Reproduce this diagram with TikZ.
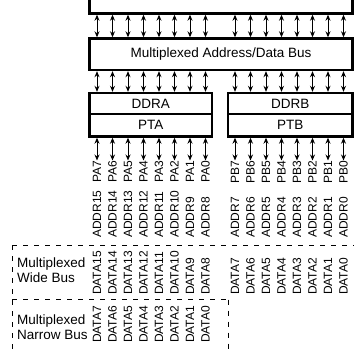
\documentclass[tikz,border=0pt]{standalone}
\usepackage{fontspec}
\setmainfont{Liberation Sans}
\usetikzlibrary{arrows.meta}
\begin{document}
\begin{tikzpicture}[x=1pt,y=-1pt,
  bigbox/.style={draw,line width=2.4pt,inner sep=0pt,font=\fontsize{13.5}{15}\selectfont},
  pinarrow/.style={line width=1pt,{Stealth[length=6pt,width=5pt]}-{Stealth[length=6pt,width=5pt]}},
  pinlabel/.style={rotate=90,inner sep=0pt,font=\fontsize{12}{13}\selectfont},
  dashline/.style={line width=0.8pt,dash pattern=on 5pt off 6pt},
  sidelabel/.style={align=left,inner sep=0pt,anchor=west,font=\fontsize{13.5}{15}\selectfont}]
\useasboundingbox (0,0) rectangle (354,351);
% boxes
\node[bigbox,minimum width=263pt,minimum height=26pt] (top) at (221,0.5) {};
\node[bigbox,minimum width=263pt,minimum height=31.5pt] (mux) at (221,54.25) {Multiplexed Address/Data Bus};
\node[bigbox,minimum width=122.5pt,minimum height=21pt] (ddra) at (150.75,103.5) {DDRA};
\node[bigbox,minimum width=122.5pt,minimum height=22.5pt] (pta) at (150.75,125.25) {PTA};
\node[bigbox,minimum width=124.5pt,minimum height=21pt] (ddrb) at (290.25,103.5) {DDRB};
\node[bigbox,minimum width=124.5pt,minimum height=22.5pt] (ptb) at (290.25,125.25) {PTB};
% columns
\foreach \i in {0,...,7}{
  \pgfmathsetmacro{\xa}{97+15.5*\i}
  \pgfmathsetmacro{\xb}{235+15.5*\i}
  \pgfmathtruncatemacro{\lo}{7-\i}
  \pgfmathtruncatemacro{\hi}{15-\i}
  \coordinate (ca\i) at (\xa,0);
  \coordinate (cb\i) at (\xb,0);
  \draw[pinarrow] (ca\i |- top.south) -- (ca\i |- mux.north);
  \draw[pinarrow] (cb\i |- top.south) -- (cb\i |- mux.north);
  \draw[pinarrow] (ca\i |- mux.south) -- (ca\i |- ddra.north);
  \draw[pinarrow] (cb\i |- mux.south) -- (cb\i |- ddrb.north);
  \node[pinlabel,anchor=east] (pa\i) at (\xa,160.5) {PA\lo};
  \node[pinlabel,anchor=east] (pb\i) at (\xb,160.5) {PB\lo};
  \draw[pinarrow] (ca\i |- pta.south) -- (pa\i.east);
  \draw[pinarrow] (cb\i |- ptb.south) -- (pb\i.east);
  \node[pinlabel,anchor=west] (aa\i) at (\xa,238) {ADDR\hi};
  \node[pinlabel,anchor=west] (ab\i) at (\xb,238) {ADDR\lo};
  \node[pinlabel,anchor=west] (wa\i) at (\xa,295) {DATA\hi};
  \node[pinlabel,anchor=west] (wb\i) at (\xb,295) {DATA\lo};
  \node[pinlabel,anchor=west] (na\i) at (\xa,343) {DATA\lo};
}
% dashed regions
\coordinate (d1) at (12,245);
\coordinate (d2) at (354,245);
\coordinate (d3) at (12,299.5);
\coordinate (d4) at (228,299.5);
\coordinate (d5) at (12,351);
\coordinate (d6) at (228,351);
\draw[dashline] (d1) -- (d2);
\draw[dashline] (d3) -- (d4);
\draw[dashline] (d1) -- (d5);
\draw[dashline] (d4) -- (d6);
\node[sidelabel] (wide) at (17,270) {Multiplexed\\Wide Bus};
\node[sidelabel] (narrow) at (17,327) {Multiplexed\\Narrow Bus};
\end{tikzpicture}
\end{document}
